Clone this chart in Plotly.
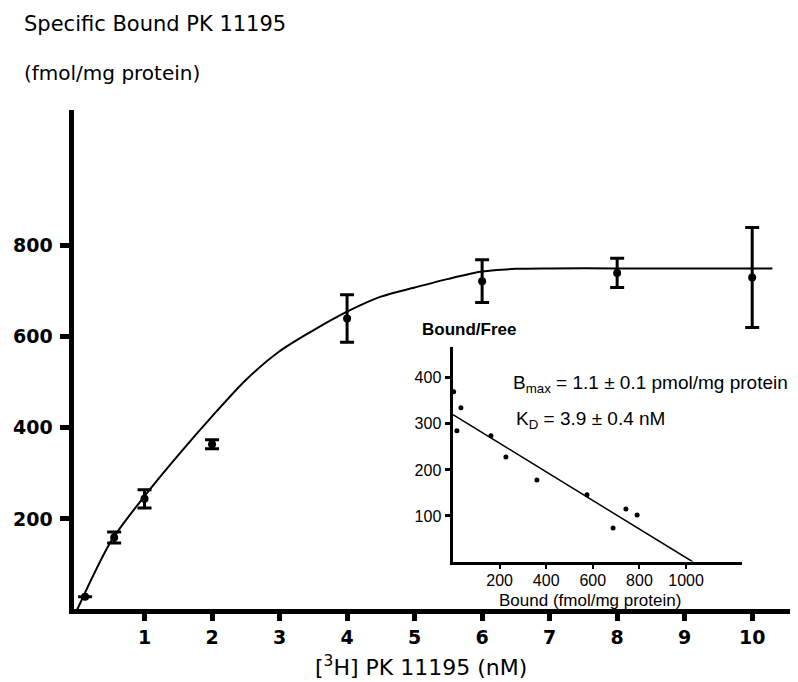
import plotly.graph_objects as go

# ---------------- data ----------------
conc_nM = [0.12, 0.55, 1, 2, 4, 6, 8, 10]
bound_fmol = [29, 159, 244, 364, 640, 722, 740, 730]
bound_err = [0, 12, 20, 10, 52, 47, 32, 110]

curve_x = [0, 0.5, 1, 1.5, 2, 2.5, 3, 3.5, 4, 4.5, 5, 5.5, 6, 6.5, 7, 8, 9, 10.3]
curve_y = [0, 150, 250, 340, 425, 505, 568, 614, 655, 688, 708, 727, 743, 749, 750, 750, 750, 750]

main_xticks = [1, 2, 3, 4, 5, 6, 7, 8, 9, 10]
main_yticks = [200, 400, 600, 800]

scat_bound = [3, 17, 34, 163, 227, 360, 575, 687, 742, 790]
scat_bf = [370, 285, 335, 274, 228, 178, 146, 74, 115, 102]
fit_x = [0, 1030]
fit_y = [320, 0]
inset_xticks = [200, 400, 600, 800, 1000]
inset_yticks = [100, 200, 300, 400]

# page body adds an 8px offset; figure is sized to fill the rest of the window
OFF = 8
W, H = 790, 674


def px(x):
    return (x - OFF) / W


def py(y):
    return 1 - (y - OFF) / H


fig = go.Figure()

fig.add_trace(go.Scatter(x=curve_x, y=curve_y, mode="lines",
                         line=dict(color="black", width=2, shape="spline", smoothing=0.8),
                         xaxis="x", yaxis="y", hoverinfo="skip"))
fig.add_trace(go.Scatter(x=conc_nM, y=bound_fmol, mode="markers",
                         marker=dict(color="black", size=8),
                         error_y=dict(type="data", array=bound_err, visible=True,
                                      color="black", thickness=3, width=7),
                         xaxis="x", yaxis="y"))

fig.add_trace(go.Scatter(x=fit_x, y=fit_y, mode="lines",
                         line=dict(color="black", width=1.5),
                         xaxis="x2", yaxis="y2", hoverinfo="skip"))
fig.add_trace(go.Scatter(x=scat_bound, y=scat_bf, mode="markers",
                         marker=dict(color="black", size=5),
                         xaxis="x2", yaxis="y2"))

tickfont_main = dict(family="DejaVu Sans", size=19, color="black", weight="bold")
tickfont_inset = dict(family="Liberation Sans", size=16, color="black")

fig.update_layout(
    width=W, height=H,
    margin=dict(l=0, r=0, t=0, b=0),
    paper_bgcolor="white", plot_bgcolor="white",
    showlegend=False,
    xaxis=dict(domain=[px(73.5), px(790)], range=[-0.052, 10.56],
               showline=True, linecolor="black", linewidth=5,
               showgrid=False, zeroline=False,
               tickmode="array", tickvals=main_xticks,
               ticks="outside", ticklen=7, tickwidth=5, tickcolor="black",
               tickfont=tickfont_main, ticklabelstandoff=0,
               anchor="y"),
    yaxis=dict(domain=[py(609), py(110)], range=[2.2, 1097.7],
               showline=True, linecolor="black", linewidth=5,
               showgrid=False, zeroline=False,
               tickmode="array", tickvals=main_yticks,
               ticks="outside", ticklen=9, tickwidth=5, tickcolor="black",
               tickfont=tickfont_main, ticklabelstandoff=3,
               anchor="x"),
    xaxis2=dict(domain=[px(452.5), px(742)], range=[-2, 1240],
                showline=True, linecolor="black", linewidth=3,
                showgrid=False, zeroline=False,
                tickmode="array", tickvals=inset_xticks,
                ticks="outside", ticklen=4, tickwidth=2, tickcolor="black",
                tickfont=tickfont_inset, ticklabelstandoff=-2,
                anchor="y2"),
    yaxis2=dict(domain=[py(561.5), py(347)], range=[1.1, 467],
                showline=True, linecolor="black", linewidth=3,
                showgrid=False, zeroline=False,
                tickmode="array", tickvals=inset_yticks,
                ticks="outside", ticklen=5, tickwidth=3, tickcolor="black",
                tickfont=tickfont_inset, ticklabelstandoff=0,
                anchor="x2"),
)

annotations = [
    dict(text="Specific Bound PK 11195", x=px(22), y=py(24), xanchor="left", yanchor="middle",
         font=dict(family="DejaVu Sans", size=21, color="black")),
    dict(text="(fmol/mg protein)", x=px(22), y=py(73), xanchor="left", yanchor="middle",
         font=dict(family="DejaVu Sans", size=20, color="black")),
    dict(text="[<sup>3</sup>H] PK 11195 (nM)", x=px(421), y=py(666), xanchor="center",
         yanchor="middle", font=dict(family="DejaVu Sans", size=22, color="black")),
    dict(text="<b>Bound/Free</b>", x=px(420), y=py(330), xanchor="left", yanchor="middle",
         font=dict(family="Liberation Sans", size=17, color="black")),
    dict(text="Bound (fmol/mg protein)", x=px(590), y=py(600), xanchor="center",
         yanchor="middle", font=dict(family="Liberation Sans", size=17, color="black")),
    dict(text="B<sub>max</sub> = 1.1 ± 0.1 pmol/mg protein", x=px(511), y=py(384),
         xanchor="left", yanchor="middle",
         font=dict(family="Liberation Sans", size=19, color="black")),
    dict(text="K<sub>D</sub> = 3.9 ± 0.4 nM", x=px(514), y=py(420),
         xanchor="left", yanchor="middle",
         font=dict(family="Liberation Sans", size=19, color="black")),
]
for a in annotations:
    a.update(xref="paper", yref="paper", showarrow=False)
fig.update_layout(annotations=annotations)

fig.write_html("out.html")
